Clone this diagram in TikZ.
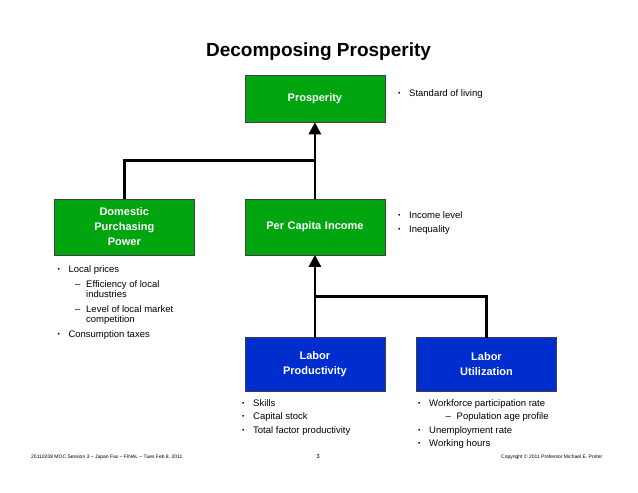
\documentclass[tikz,border=0pt]{standalone}
\usepackage{fontspec}
\setmainfont{Liberation Sans}
\usetikzlibrary{matrix,arrows.meta,calc}
\definecolor{boxgreen}{RGB}{0,165,15}
\definecolor{boxblue}{RGB}{0,45,205}
\newcommand\bul{\makebox[11pt][l]{\raisebox{0.9pt}{\scalebox{0.7}{\textbullet}}}}
\newcommand\subl[2][17.7pt]{\hspace*{#1}\makebox[11pt][l]{–}#2}

\begin{document}
\begin{tikzpicture}[x=1pt, y=-1pt,
	box/.style={draw=black!75, line width=0.6pt, text=white, inner sep=2pt,
		minimum width=140pt, text width=136pt, align=center,
		font=\bfseries\fontsize{11}{15}\selectfont},
	gbox/.style={box, fill=boxgreen, minimum height=56pt},
	bbox/.style={box, fill=boxblue, minimum height=54pt},
	note/.style={anchor=north west, inner sep=0pt, align=left,
		font=\fontsize{9.5}{11}\selectfont},
	foot/.style={anchor=base west, inner sep=0pt, font=\fontsize{5}{6}\selectfont},
	link/.style={line width=2.7pt}]
	\useasboundingbox (0,0) rectangle (638,493);
	\node[font=\bfseries\fontsize{19}{23}\selectfont, anchor=base] (title) at (318.5,56.5) {Decomposing Prosperity};
	\matrix (d) [matrix of nodes, row sep=0pt, column sep=0pt, inner sep=0pt,
		outer sep=0pt, anchor=north west, nodes={anchor=center}] at (54,75)
	{
		&[50pt] |[gbox, minimum height=47pt]| Prosperity &[31pt] \\[76pt]
		|[gbox]| {Domestic\\Purchasing\\Power} &[50pt] |[gbox]| Per Capita Income &[31pt] \\[82pt]
		&[50pt] |[bbox]| {Labor\\Productivity} &[31pt] |[bbox]| {Labor\\Utilization} \\
	};
	\coordinate (j1) at ($(d-1-2.south)!.5!(d-2-2.north)$);
	\coordinate (j2) at ($(d-2-2.south)!.5!(d-3-2.north)$);
	\path[link, -{Triangle[width=12pt,length=12pt]}]
	(d-2-2) edge (d-1-2)
	(d-3-2) edge (d-2-2);
	\draw[link] (d-2-1.north) |- (j1);
	\draw[link] (d-3-3.north) |- (j2);
	% notes beside and below the boxes
	\node[note] (pros-notes) at (398,89.5) {\bul Standard of living};
	\node[note] (pci-notes) at (398,211.5) {\bul Income level\\[2.5pt] \bul Inequality};
	\node[note, font=\fontsize{9.5}{10.5}\selectfont] (dpp-notes) at (57.3,265.5)
	{\bul Local prices\\[4pt]
		\subl{Efficiency of local}\\
		\hspace*{28.7pt}industries\\[4pt]
		\subl{Level of local market}\\
		\hspace*{28.7pt}competition\\[4pt]
		\bul Consumption taxes};
	\node[note] (lp-notes) at (242,399) {\bul Skills\\[2.5pt] \bul Capital stock\\[2.5pt] \bul Total factor productivity};
	\node[note] (lu-notes) at (418,399)
	{\bul Workforce participation rate\\[2.5pt]
		\subl[27.5pt]{Population age profile}\\[2.5pt]
		\bul Unemployment rate\\[2.5pt]
		\bul Working hours};
	% footer
	\node[foot] (foot-l) at (31,458) {20110208 MOC Session 3 – Japan Fax – FINAL – Tues Feb 8, 2011};
	\node[foot, anchor=base, font=\fontsize{6}{7}\selectfont] (foot-p) at (318,458) {3};
	\node[foot] (foot-r) at (501,458) {Copyright © 2011 Professor Michael E. Porter};
\end{tikzpicture}
\end{document}
